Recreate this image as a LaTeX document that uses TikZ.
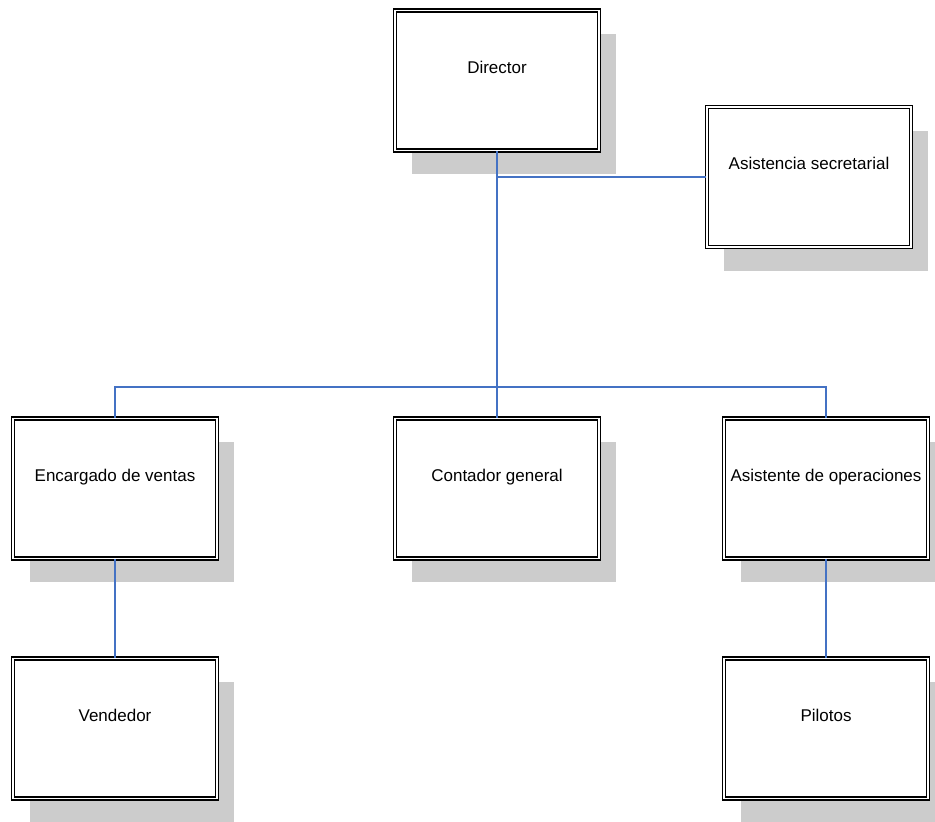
\documentclass[tikz,border=0pt]{standalone}
\usepackage{fontspec}
\setmainfont{Liberation Sans}
\usetikzlibrary{shadows}
\definecolor{ink}{HTML}{000000}
\definecolor{sombra}{HTML}{CCCCCC}
\definecolor{linea}{HTML}{4472C4}
\newcommand{\lbl}{\fontsize{8.5}{10}\selectfont}
\tikzset{puesto/.style={rectangle,draw=ink,double=white,line width=0.75pt,double distance=0.85pt,
    fill=white,minimum width=102pt,minimum height=70pt,inner sep=0,
    text height=6pt,text depth=13pt,font=\lbl,text=ink,
    drop shadow={shadow xshift=8.5pt,shadow yshift=-12pt,fill=sombra,opacity=1}},
  enlace/.style={linea,line width=0.65pt}}

\begin{document}
\begin{tikzpicture}[x=0.5pt,y=0.5pt]
\useasboundingbox (0,0) rectangle (935,822);
\node[puesto] (director) at (497,741.5) {Director};
\node[puesto] (secretaria) at (809,645) {Asistencia secretarial};
\node[puesto] (ventas) at (115,333.5) {Encargado de ventas};
\node[puesto] (contador) at (497,333.5) {Contador general};
\node[puesto] (operaciones) at (826,333.5) {Asistente de operaciones};
\node[puesto] (vendedor) at (115,93.5) {Vendedor};
\node[puesto] (pilotos) at (826,93.5) {Pilotos};
\coordinate (bus) at (497,435);
% lineas de mando
\draw[enlace] (director.south) -- (contador.north);
\draw[enlace] (director.south |- secretaria.west) -- (secretaria.west);
\draw[enlace] (ventas.north) |- (bus) -| (operaciones.north);
\draw[enlace] (ventas.south) -- (vendedor.north);
\draw[enlace] (operaciones.south) -- (pilotos.north);
\end{tikzpicture}
\end{document}
